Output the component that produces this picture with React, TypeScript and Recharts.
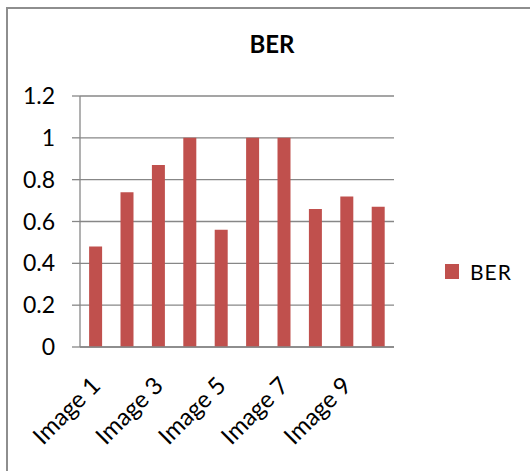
import React from "react";
import { BarChart, Bar, XAxis, YAxis, CartesianGrid, Legend } from "recharts";

const categories = ["Image 1", "Image 2", "Image 3", "Image 4", "Image 5", "Image 6", "Image 7", "Image 8", "Image 9", "Image 10"];
const berValues = [0.48, 0.74, 0.87, 1.0, 0.56, 1.0, 1.0, 0.66, 0.72, 0.67];
const yTicks = [0, 0.2, 0.4, 0.6, 0.8, 1, 1.2];
const edgeTicks = [0, 1, 2, 3, 4, 5, 6, 7, 8, 9, 10];
const seriesName = "BER";
const chartTitle = "BER";

const data = categories.map((name, i) => ({ name, BER: berValues[i] }));

const GRID = "#878787";
const BAR = "#C0504D";
const FONT = "Lato, 'Open Sans', sans-serif";

const LegendContent = (props: any) => {
  const items = props.payload || [];
  return (
    <div style={{ fontFamily: FONT }}>
      {items.map((it: any) => (
        <div key={it.value} style={{ display: "flex", alignItems: "center" }}>
          <span style={{ display: "inline-block", width: 14, height: 15, background: it.color, marginRight: 11 }} />
          <span style={{ fontSize: 21, color: "#000", letterSpacing: 1 }}>{it.value}</span>
        </div>
      ))}
    </div>
  );
};

export default function App() {
  return (
    <div style={{ position: "absolute", left: 0, top: 0, width: 530, height: 471, overflow: "hidden", background: "#fff" }}>
      <div style={{ position: "absolute", left: 6, top: 7, width: 700, height: 700, border: "2px solid #8e8e8e", boxSizing: "border-box" }} />
      <div style={{ position: "absolute", left: 0, top: 29, width: 544, textAlign: "center", fontFamily: FONT, fontWeight: 700, fontSize: 24, color: "#000", lineHeight: "30px" }}>
        {chartTitle}
      </div>
      <div style={{ position: "absolute", left: 0, top: 0 }}>
        <BarChart width={530} height={471} data={data} margin={{ top: 96, right: 136, left: 0, bottom: 24 }} barCategoryGap="29%">
          <CartesianGrid horizontal={true} vertical={false} stroke={GRID} strokeWidth={1.3} />
          <XAxis
            xAxisId="edges"
            type="number"
            domain={[0, 10]}
            ticks={edgeTicks}
            allowDataOverflow
            tick={false}
            axisLine={false}
            tickLine={{ stroke: GRID, strokeWidth: 1.3 }}
            tickSize={8}
            height={0}
          />
          <XAxis
            dataKey="name"
            interval={1}
            tickLine={false}
            axisLine={{ stroke: GRID, strokeWidth: 1.3 }}
            tickSize={8}
            tickMargin={20}
            angle={-45}
            textAnchor="end"
            height={100}
            tick={{ fill: "#000", fontSize: 24, fontFamily: FONT, dx: -6 }}
          />
          <YAxis
            domain={[0, 1.2]}
            ticks={yTicks}
            width={80}
            tickSize={8}
            tickMargin={17}
            axisLine={{ stroke: GRID, strokeWidth: 1.3 }}
            tickLine={{ stroke: GRID, strokeWidth: 1.3 }}
            tick={{ fill: "#000", fontSize: 23, fontFamily: FONT }}
          />
          <Legend
            layout="vertical"
            align="center"
            verticalAlign="middle"
            content={<LegendContent />}
            wrapperStyle={{ position: "absolute", left: 445, top: 259, width: 80 }}
          />
          <Bar dataKey="BER" name={seriesName} fill={BAR} isAnimationActive={false} />
        </BarChart>
      </div>
    </div>
  );
}
